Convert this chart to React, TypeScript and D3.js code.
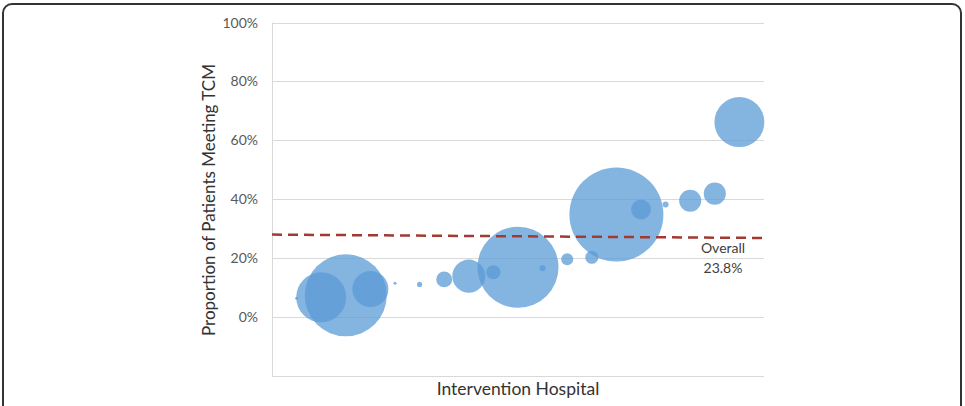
import * as d3 from "d3";
import { useEffect, useRef } from "react";

// hospital index (x), proportion meeting TCM (y), patient volume (bubble size)
const hospitals = [1, 2, 3, 4, 5, 6, 7, 8, 9, 10, 11, 12, 13, 14, 15, 16, 17, 18, 19];
const proportions = [
    0.064, 0.067, 0.074, 0.095, 0.115, 0.111, 0.128, 0.139, 0.152, 0.169,
    0.166, 0.196, 0.203, 0.348, 0.365, 0.382, 0.395, 0.419, 0.662,
];
const volumes = [1, 277, 746, 144, 1, 3, 28, 121, 22, 728, 4, 16, 19, 980, 44, 4, 54, 54, 277];
const yTicks = [0, 0.2, 0.4, 0.6, 0.8, 1.0];
const gridLines = [-0.2, 0, 0.2, 0.4, 0.6, 0.8, 1.0];
const overallLine = [0.28, 0.2685]; // reference line at start / end of plot
const overallLabel = ["Overall", "23.8%"];

const FONT = "Lato, 'Open Sans', sans-serif";

const BubbleChart = () => {
    const svgRef = useRef<SVGSVGElement | null>(null);

    const dimensions = { width: 965, height: 406 };
    const plot = { left: 272, right: 764, top: 22.5, bottom: 376 };

    useEffect(() => {
        const svg = d3.select(svgRef.current);
        svg.selectAll("*").remove();

        // outer frame
        svg.append("rect")
            .attr("x", 3)
            .attr("y", 4)
            .attr("width", 958)
            .attr("height", 440)
            .attr("rx", 9)
            .attr("fill", "#fff")
            .attr("stroke", "#333")
            .attr("stroke-width", 2);

        const xScale = d3.scaleLinear().domain([0, 20]).range([plot.left, plot.right]);
        const yScale = d3.scaleLinear().domain([-0.2, 1.0]).range([plot.bottom, plot.top]);
        const rScale = d3
            .scaleSqrt()
            .domain([0, d3.max(volumes) as number])
            .range([0, 47]);

        // gridlines
        svg.append("g")
            .selectAll("line")
            .data(gridLines)
            .join("line")
            .attr("x1", plot.left)
            .attr("x2", plot.right)
            .attr("y1", (d) => Math.round(yScale(d)) + 0.5)
            .attr("y2", (d) => Math.round(yScale(d)) + 0.5)
            .attr("stroke", "#d9d9d9")
            .attr("stroke-width", 1);

        // left axis line
        svg.append("line")
            .attr("x1", plot.left + 0.5)
            .attr("x2", plot.left + 0.5)
            .attr("y1", plot.top)
            .attr("y2", plot.bottom)
            .attr("stroke", "#d9d9d9");

        // y tick labels
        svg.append("g")
            .selectAll("text")
            .data(yTicks)
            .join("text")
            .attr("x", 258)
            .attr("y", (d) => yScale(d))
            .attr("dy", "0.36em")
            .attr("text-anchor", "end")
            .attr("font-family", FONT)
            .attr("font-size", 14)
            .attr("fill", "#595959")
            .text((d) => d3.format(".0%")(d));

        // bubbles
        const points = hospitals.map((h, i) => ({
            x: h,
            y: proportions[i],
            v: volumes[i],
        }));

        svg.append("g")
            .selectAll("circle")
            .data(points)
            .join("circle")
            .attr("cx", (d) => xScale(d.x))
            .attr("cy", (d) => yScale(d.y))
            .attr("r", (d) => rScale(d.v))
            .attr("fill", "#5b9bd5")
            .attr("fill-opacity", 0.75);

        // overall reference line
        svg.append("line")
            .attr("x1", plot.left)
            .attr("x2", plot.right)
            .attr("y1", yScale(overallLine[0]))
            .attr("y2", yScale(overallLine[1]))
            .attr("stroke", "#a33a32")
            .attr("stroke-width", 2.5)
            .attr("stroke-dasharray", "10,6");

        svg.append("g")
            .selectAll("text")
            .data(overallLabel)
            .join("text")
            .attr("x", 723)
            .attr("y", (_, i) => 253 + i * 20)
            .attr("text-anchor", "middle")
            .attr("font-family", FONT)
            .attr("font-size", 14)
            .attr("fill", "#404040")
            .text((d) => d);

        // axis titles
        svg.append("text")
            .attr("transform", "translate(215, 200) rotate(-90)")
            .attr("text-anchor", "middle")
            .attr("font-family", FONT)
            .attr("font-size", 17)
            .attr("fill", "#333")
            .text("Proportion of Patients Meeting TCM");

        svg.append("text")
            .attr("x", 518)
            .attr("y", 395)
            .attr("text-anchor", "middle")
            .attr("font-family", FONT)
            .attr("font-size", 17.5)
            .attr("fill", "#333")
            .text("Intervention Hospital");
    }, []);

    return (
        <svg
            ref={svgRef}
            width={dimensions.width}
            height={dimensions.height}
            style={{ position: "absolute", left: 0, top: 0 }}
        />
    );
};

export default function App() {
    return <BubbleChart />;
}
